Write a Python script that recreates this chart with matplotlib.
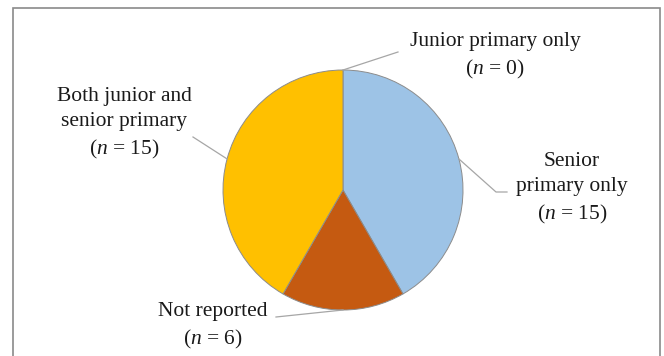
import numpy as np
import matplotlib
matplotlib.use("Agg")
import matplotlib.pyplot as plt
from matplotlib.patches import Rectangle

# data
categories = ["Junior primary only", "Senior primary only", "Not reported",
              "Both junior and\nsenior primary"]
counts = [0, 15, 6, 15]
colors = ["#A5A5A5", "#9DC3E6", "#C55A11", "#FFC000"]

plt.rcParams["font.family"] = ["Liberation Serif", "DejaVu Serif"]
plt.rcParams["mathtext.fontset"] = "custom"
plt.rcParams["mathtext.rm"] = "Liberation Serif"
plt.rcParams["mathtext.it"] = "Liberation Serif:italic"

W, H = 664, 356
fig = plt.figure(figsize=(W / 100, H / 100), dpi=100)
ax = fig.add_axes([0, 0, 1, 1])

cx, cy, r = 343, H - 190, 120
wedges, _ = ax.pie(counts, colors=colors, startangle=90, counterclock=False,
                   center=(cx, cy), radius=r,
                   wedgeprops=dict(edgecolor="#8c8c8c", linewidth=0.7))

ax.set_xlim(0, W)
ax.set_ylim(0, H)
ax.set_aspect("equal")
ax.axis("off")

# outer frame
ax.add_patch(Rectangle((13, -10), 647, H - 8 + 10, fill=False,
                       edgecolor="#8a8a8a", linewidth=1.2))

# label layout: (text centre x, text top y, leader bend, leader end)
layout = [
    ((495, 32), (398, 52), None),
    ((572, 152), (496, 192), (507, 192)),
    ((213, 302), (276, 317), None),
    ((124, 87), (193, 137), None),
]

fs = 15.5
for w, name, n, (tpos, p1, p2) in zip(wedges, categories, counts, layout):
    ang = np.deg2rad((w.theta1 + w.theta2) / 2)
    sx, sy = cx + r * np.cos(ang), cy + r * np.sin(ang)
    if name.startswith("Senior"):
        lbl = "Senior\nprimary only"
    else:
        lbl = name
    lbl = lbl + "\n" + r"($\mathit{n}$ = %d)" % n
    ax.text(tpos[0], H - tpos[1], lbl, ha="center", va="top", fontsize=fs,
            linespacing=1.42, color="#1a1a1a")
    xs = [sx, p1[0]]
    ys = [sy, H - p1[1]]
    if p2 is not None:
        xs.append(p2[0])
        ys.append(H - p2[1])
    ax.plot(xs, ys, color="#a6a6a6", linewidth=0.9)

fig.savefig("out.png", dpi=100)
